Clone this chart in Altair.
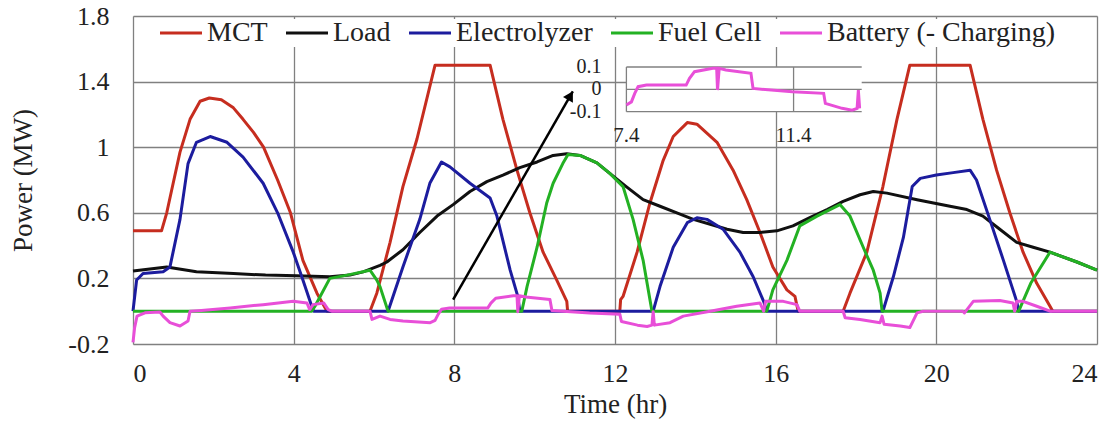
import altair as alt
import pandas as pd

# ---------------- data ----------------
series_names = ["MCT", "Load", "Electrolyzer", "Fuel Cell", "Battery (- Charging)"]
series_colors = ["#C62D1F", "#101010", "#1C1C9E", "#23B123", "#E84FD8"]

mct_t = [0, 0.71, 0.84, 1.0, 1.17, 1.42, 1.67, 1.9, 2.2, 2.5, 2.74, 3.0, 3.25, 3.6, 3.92, 4.23, 4.58, 4.83,
         5.9, 6.07, 6.4, 6.72, 7.07, 7.52, 8.89, 9.21, 9.56, 9.88, 10.21, 10.55, 10.8, 10.82, 12.12, 12.14,
         12.2, 12.55, 12.87, 13.2, 13.45, 13.8, 14.04, 14.54, 14.94, 15.28, 15.61, 15.93, 16.28, 16.48, 16.56,
         17.68, 17.85, 18.27, 18.67, 19.02, 19.34, 20.84, 21.16, 21.5, 21.83, 22.16, 22.5, 22.83, 22.9, 24]
mct_p = [0.49, 0.49, 0.6, 0.78, 0.97, 1.17, 1.28, 1.30, 1.29, 1.24, 1.17, 1.09, 1.0, 0.8, 0.6, 0.31, 0.11, 0.0,
         0.0, 0.11, 0.42, 0.76, 1.05, 1.5, 1.5, 1.17, 0.86, 0.6, 0.36, 0.19, 0.06, 0.0, 0.0, 0.07,
         0.09, 0.36, 0.66, 0.92, 1.065, 1.15, 1.14, 1.03, 0.86, 0.68, 0.48, 0.27, 0.13, 0.09, 0.0,
         0.0, 0.11, 0.36, 0.76, 1.17, 1.5, 1.5, 1.17, 0.86, 0.6, 0.36, 0.17, 0.03, 0.0, 0.0]

load_t = [0, 0.84, 1.58, 2.5, 3.3, 4.07, 4.9, 5.4, 5.73, 6.15, 6.32, 6.72, 7.14, 7.57, 7.97, 8.39, 8.81, 9.21,
          9.63, 10.06, 10.46, 10.8, 11.13, 11.55, 11.87, 12.28, 12.7, 13.12, 13.54, 13.95, 14.37, 14.79, 15.19,
          15.61, 16.03, 16.43, 16.85, 17.28, 17.68, 18.1, 18.43, 18.77, 19.52, 20.34, 20.76, 21.16, 21.58, 22.0,
          22.41, 22.83, 23.5, 24]
load_p = [0.245, 0.27, 0.24, 0.23, 0.22, 0.216, 0.21, 0.22, 0.24, 0.28, 0.30, 0.375, 0.48, 0.58, 0.65, 0.73, 0.79,
          0.83, 0.875, 0.91, 0.95, 0.96, 0.95, 0.905, 0.84, 0.76, 0.68, 0.64, 0.6, 0.56, 0.53, 0.50, 0.48,
          0.48, 0.49, 0.52, 0.57, 0.62, 0.67, 0.71, 0.73, 0.72, 0.68, 0.64, 0.62, 0.58, 0.50, 0.42,
          0.39, 0.36, 0.30, 0.25]

ele_t = [0, 0.09, 0.25, 0.75, 0.92, 1.17, 1.37, 1.58, 1.92, 2.34, 2.74, 3.24, 3.6, 3.99, 4.23, 4.45, 4.5,
         6.35, 6.72, 7.14, 7.39, 7.68, 7.89, 8.39, 8.89, 9.06, 9.39, 9.58, 9.63,
         12.95, 13.12, 13.45, 13.8, 14.04, 14.29, 14.69, 15.11, 15.44, 15.7, 15.78,
         18.67, 18.93, 19.18, 19.4, 19.6, 20.0, 20.42, 20.84, 21.0, 21.33, 21.67, 22.0, 22.05, 24]
ele_p = [0, 0.19, 0.23, 0.24, 0.27, 0.56, 0.9, 1.03, 1.065, 1.03, 0.94, 0.78, 0.6, 0.36, 0.19, 0.03, 0,
         0, 0.27, 0.56, 0.78, 0.91, 0.88, 0.78, 0.69, 0.58, 0.25, 0.09, 0,
         0, 0.15, 0.39, 0.54, 0.57, 0.56, 0.5, 0.36, 0.21, 0.06, 0,
         0, 0.21, 0.45, 0.76, 0.81, 0.83, 0.845, 0.86, 0.8, 0.56, 0.31, 0.06, 0, 0]

fc_t = [0, 4.45, 4.53, 4.9, 5.33, 5.9, 6.07, 6.15, 6.35, 9.68, 9.81, 10.06, 10.3, 10.46, 10.7, 10.83, 11.13,
        11.55, 11.87, 12.2, 12.45, 12.7, 12.92, 15.78, 15.93, 16.28, 16.6, 17.03, 17.6, 17.85, 18.18, 18.43,
        18.6, 18.65, 22.05, 22.35, 22.83, 23.5, 24]
fc_p = [0, 0, 0.03, 0.2, 0.22, 0.25, 0.19, 0.15, 0, 0, 0.15, 0.39, 0.66, 0.78, 0.9, 0.955, 0.95,
        0.905, 0.84, 0.76, 0.56, 0.31, 0, 0, 0.13, 0.31, 0.52, 0.58, 0.65, 0.58, 0.39, 0.25,
        0.11, 0, 0, 0.17, 0.36, 0.30, 0.25]

bat_t = [0, 0.04, 0.1, 0.3, 0.67, 0.75, 0.92, 1.17, 1.37, 1.42, 1.7, 2.42, 3.24, 3.99, 4.33, 4.4, 4.48, 4.75,
         4.86, 4.95, 5.9, 5.95, 6.15, 6.4, 6.72, 7.4, 7.52, 7.6, 7.68, 7.88, 8.83, 8.91, 9.03, 9.47, 9.56, 9.58,
         9.62, 9.78, 10.38, 10.43, 11.37, 12.12, 12.16, 12.56, 12.8, 12.92, 12.95, 12.98, 13.37, 13.7, 14.37,
         15.03, 15.61, 15.7, 15.75, 16.19, 16.53, 16.6, 17.68, 17.73, 18.1, 18.6, 18.65, 18.7, 19.1, 19.34,
         19.52, 19.67, 20.66, 20.7, 20.92, 21.58, 21.91, 21.95, 22.0, 22.16, 22.5, 22.83, 24]
bat_p = [-0.19, -0.1, -0.03, -0.01, -0.005, -0.03, -0.07, -0.09, -0.06, 0.0, 0.005, 0.02, 0.04, 0.06, 0.05, 0.01,
         0.04, 0.05, 0.01, 0.0, 0.0, -0.05, -0.03, -0.05, -0.06, -0.07, -0.056, -0.018, 0.012, 0.019, 0.019,
         0.049, 0.079, 0.094, 0.094, -0.003, 0.094, 0.087, 0.072, 0.004, -0.011, -0.018, -0.063, -0.085, -0.093,
         -0.085, -0.003, -0.085, -0.07, -0.03, 0.0, 0.03, 0.05, 0.0, 0.06, 0.06, 0.04, 0.0, 0.0, -0.04, -0.05,
         -0.07, -0.03, -0.08, -0.09, -0.10, -0.01, 0.0, 0.0, -0.01, 0.06, 0.065, 0.05, 0.0, 0.06, 0.06, 0.03,
         0.0, 0.0]

x_ticks = [0, 4, 8, 12, 16, 20, 24]
y_ticks = [-0.2, 0.2, 0.6, 1.0, 1.4, 1.8]
x_domain = [0, 24]
y_domain = [-0.2, 1.8]

# inset (zoom of battery 7.4 .. 13 h)
inset_t_domain = [7.4, 13.03]
inset_p_domain = [-0.1, 0.1]
inset_x_ticks = [7.4, 11.4]
inset_x_labels = ["7.4", "11.4"]
inset_y_ticks = [0.1, 0.0, -0.1]
inset_y_labels = ["0.1", "0", "-0.1"]

# annotation arrow (data units of the main chart)
arrow_t = [7.97, 10.95]
arrow_p = [0.07, 1.341]
arrow_head_t = [10.89]
arrow_head_p = [1.315]

# ---------------- layout ----------------
W, H = 964, 328
FONT = "Liberation Serif"
GRID = "#808080"
TXT = "#222222"

inset_x_range = [493.4, 728.7]
inset_y_range = [95.7, 51.0]

rows = []
for name, ts, ps in zip(series_names, [mct_t, load_t, ele_t, fc_t, bat_t], [mct_p, load_p, ele_p, fc_p, bat_p]):
    for t, p in zip(ts, ps):
        rows.append({"t": t, "p": p, "series": name})
df = pd.DataFrame(rows)

xs = alt.Scale(domain=x_domain, nice=False, zero=False)
ys = alt.Scale(domain=y_domain, nice=False, zero=False)

lines = alt.Chart(df).mark_line(strokeWidth=3, strokeJoin="round").encode(
    x=alt.X("t:Q", scale=xs,
            axis=alt.Axis(values=x_ticks, format="d", grid=True, ticks=False, domain=False,
                          labelFont=FONT, labelFontSize=26, labelColor=TXT, labelPadding=16,
                          gridColor=GRID, gridWidth=1.3,
                          title="Time (hr)", titleFont=FONT, titleFontSize=27, titleFontWeight="normal",
                          titleColor=TXT, titlePadding=5)),
    y=alt.Y("p:Q", scale=ys,
            axis=alt.Axis(values=y_ticks, grid=True, ticks=False, domain=False,
                          labelExpr="datum.value < 0 ? '-' + format(-datum.value, '~g') : format(datum.value, '~g')",
                          labelFont=FONT, labelFontSize=26, labelColor=TXT, labelPadding=24,
                          gridColor=GRID, gridWidth=1.3,
                          title="Power (MW)", titleFont=FONT, titleFontSize=27, titleFontWeight="normal",
                          titleColor=TXT, titlePadding=30)),
    color=alt.Color("series:N",
                    scale=alt.Scale(domain=series_names, range=series_colors),
                    legend=alt.Legend(orient="none", legendX=34, legendY=3, direction="horizontal",
                                      title=None, symbolType="M-2,0H2", symbolSize=441,
                                      symbolStrokeWidth=3, labelFont=FONT, labelFontSize=28,
                                      labelColor=TXT, labelOffset=12, columnPadding=12, labelLimit=500,
                                      fillColor="white", padding=0)),
)

main_layer = alt.layer(lines)

# ----- inset -----
ixs = alt.Scale(domain=inset_t_domain, range=inset_x_range, nice=False, zero=False)
iys = alt.Scale(domain=inset_p_domain, range=inset_y_range, nice=False, zero=False)

inset_bg = alt.Chart(pd.DataFrame({"t": [inset_t_domain[0]], "t2": [inset_t_domain[1]],
                                   "p": [inset_p_domain[0]], "p2": [inset_p_domain[1]]})).mark_rect(
    fill="white").encode(
    x=alt.X("t:Q", scale=ixs, axis=None), x2="t2:Q",
    y=alt.Y("p:Q", scale=iys, axis=None), y2="p2:Q")

inset_hgrid = alt.Chart(pd.DataFrame({"p": inset_y_ticks, "t": inset_t_domain[0], "t2": inset_t_domain[1]})).mark_rule(
    color=GRID, strokeWidth=1.3).encode(
    x=alt.X("t:Q", scale=ixs, axis=None), x2="t2:Q",
    y=alt.Y("p:Q", scale=iys, axis=None))

inset_vgrid = alt.Chart(pd.DataFrame({"t": inset_x_ticks, "p": inset_p_domain[0], "p2": inset_p_domain[1]})).mark_rule(
    color=GRID, strokeWidth=1.3).encode(
    x=alt.X("t:Q", scale=ixs, axis=None),
    y=alt.Y("p:Q", scale=iys, axis=None), y2="p2:Q")

inset_df = pd.DataFrame({"t": bat_t, "p": bat_p})
inset_df = inset_df[(inset_df.t >= inset_t_domain[0]) & (inset_df.t <= 13.0)]
inset_line = alt.Chart(inset_df).mark_line(color=series_colors[4], strokeWidth=3).encode(
    x=alt.X("t:Q", scale=ixs, axis=None),
    y=alt.Y("p:Q", scale=iys, axis=None))

inset_ylab = alt.Chart(pd.DataFrame({"p": inset_y_ticks, "label": inset_y_labels, "t": inset_t_domain[0]})).mark_text(
    align="right", baseline="middle", dx=-25, font=FONT, fontSize=20, color=TXT).encode(
    x=alt.X("t:Q", scale=ixs, axis=None),
    y=alt.Y("p:Q", scale=iys, axis=None), text="label:N")

inset_xlab = alt.Chart(pd.DataFrame({"t": inset_x_ticks, "label": inset_x_labels, "p": inset_p_domain[0]})).mark_text(
    align="center", baseline="middle", dy=24, font=FONT, fontSize=21, color=TXT).encode(
    x=alt.X("t:Q", scale=ixs, axis=None),
    y=alt.Y("p:Q", scale=iys, axis=None), text="label:N")

inset_layer = alt.layer(inset_bg, inset_hgrid, inset_vgrid, inset_line, inset_ylab, inset_xlab)

# ----- arrow -----
axs = alt.Scale(domain=x_domain, nice=False, zero=False)
ays = alt.Scale(domain=y_domain, nice=False, zero=False)
arrow_line = alt.Chart(pd.DataFrame({"t": arrow_t, "p": arrow_p})).mark_line(color="black", strokeWidth=2.5).encode(
    x=alt.X("t:Q", scale=axs, axis=None), y=alt.Y("p:Q", scale=ays, axis=None))
arrow_head = alt.Chart(pd.DataFrame({"t": arrow_head_t, "p": arrow_head_p})).mark_point(
    shape="triangle-up", angle=30, filled=True, size=130, color="black", opacity=1).encode(
    x=alt.X("t:Q", scale=axs, axis=None), y=alt.Y("p:Q", scale=ays, axis=None))
arrow_layer = alt.layer(arrow_line, arrow_head)

chart = alt.layer(main_layer, inset_layer, arrow_layer).resolve_scale(
    x="independent", y="independent", color="independent"
).properties(
    width=W, height=H,
    autosize=alt.AutoSizeParams(type="none"),
    padding={"left": 125, "top": 8, "right": 11, "bottom": 76},
).configure_view(stroke=GRID, strokeWidth=1.5).configure(background="white")

chart.save("out.html", embed_options={"renderer": "svg", "actions": False})
